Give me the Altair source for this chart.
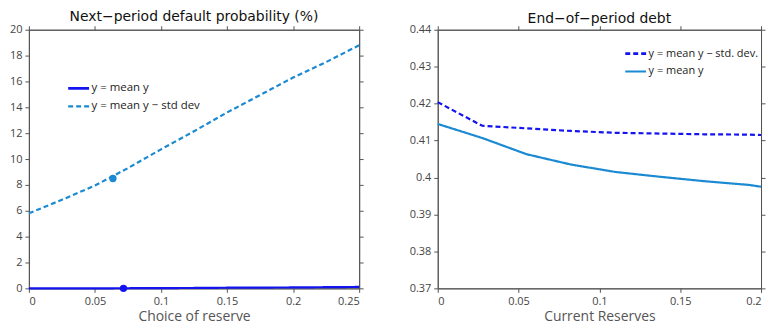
import altair as alt
import pandas as pd

# ---------------- data ----------------
left_x = [0, 0.025, 0.05, 0.075, 0.1, 0.125, 0.15, 0.175, 0.2, 0.225, 0.25]
left_mean = [0.0, 0.0, 0.0, 0.01, 0.02, 0.03, 0.05, 0.06, 0.07, 0.09, 0.11]
left_std = [5.8, 6.85, 7.95, 9.3, 10.75, 12.15, 13.6, 14.95, 16.3, 17.5, 18.8]
left_pt_x = [0.0636, 0.0716]
left_pt_y = [8.5, 0.0]
left_series = ["y = mean y", "y = mean y − std dev"]

right_x = [0, 0.0275, 0.055, 0.0825, 0.11, 0.1375, 0.165, 0.1925, 0.2]
right_std = [0.4204, 0.4140, 0.4133, 0.4126, 0.4121, 0.4119, 0.4117, 0.4116, 0.4115]
right_mean = [0.4145, 0.4107, 0.4063, 0.4035, 0.4015, 0.4002, 0.3990, 0.3980, 0.3975]
right_series = ["y = mean y − std. dev.", "y = mean y"]

DARK = "#1414f0"
LIGHT = "#1b8ad2"
FONT = "Open Sans"
TFONT = "DejaVu Sans"

left_df = pd.DataFrame({
    "x": left_x * 2,
    "y": left_mean + left_std,
    "s": [left_series[0]] * len(left_x) + [left_series[1]] * len(left_x),
})
left_pts = pd.DataFrame({"x": left_pt_x, "y": left_pt_y, "s": left_series[::-1]})

right_df = pd.DataFrame({
    "x": right_x * 2,
    "y": right_std + right_mean,
    "s": [right_series[0]] * len(right_x) + [right_series[1]] * len(right_x),
})


def panel(df, xdom, xticks, ydom, yticks, series, colors, dashes, widths, title, xtitle,
          legx, legy, legfs, w, h, title_offset, pts=None):
    xs = alt.Scale(domain=xdom, nice=False, zero=False)
    ys = alt.Scale(domain=ydom, nice=False, zero=False)
    leg = alt.Legend(orient="none", legendX=legx, legendY=legy, title=None,
                     symbolType="stroke", symbolSize=440, symbolStrokeWidth=2.5,
                     labelFontSize=legfs, labelFont=FONT, labelColor="#222",
                     rowPadding=-9, labelOffset=1, padding=0)
    base_x = alt.X("x:Q", scale=xs, axis=alt.Axis(values=xticks, format="~g", title=xtitle, orient="bottom"))
    base_y = alt.Y("y:Q", scale=ys, axis=alt.Axis(values=yticks, format="~g", title=None, orient="left"))
    lines = alt.Chart(df).mark_line(strokeWidth=2.2).encode(
        x=base_x, y=base_y,
        color=alt.Color("s:N", scale=alt.Scale(domain=series, range=colors), legend=leg),
        strokeDash=alt.StrokeDash("s:N", scale=alt.Scale(domain=series, range=dashes), legend=leg),
        strokeWidth=alt.StrokeWidth("s:N", scale=alt.Scale(domain=series, range=widths), legend=None),
    )
    frame = alt.Chart(df).mark_line(opacity=0).encode(
        x=alt.X("x:Q", scale=xs, axis=alt.Axis(values=xticks, orient="top", labels=False, title=None)),
        y=alt.Y("y:Q", scale=ys, axis=alt.Axis(values=yticks, orient="right", labels=False, title=None)),
    )
    layers = [lines, frame]
    if pts is not None:
        layers.append(alt.Chart(pts).mark_circle(size=55, opacity=1).encode(
            x=alt.X("x:Q", scale=xs, axis=None), y=alt.Y("y:Q", scale=ys, axis=None),
            color=alt.Color("s:N", scale=alt.Scale(domain=series, range=colors), legend=None),
        ))
    return alt.layer(*layers).resolve_axis(x="independent", y="independent").properties(
        width=w, height=h,
        title=alt.TitleParams(title, fontSize=14, font=TFONT, fontWeight="normal",
                              color="#111", offset=title_offset),
    )


left = panel(left_df, [0, 0.25], [0, 0.05, 0.1, 0.15, 0.2, 0.25], [0, 20], list(range(0, 21, 2)),
             left_series, [DARK, LIGHT], [[1, 0], [5, 3]], [2.6, 2.2],
             "Next−period default probability (%)", "Choice of reserve",
             38, 47, 11.5, 332, 260, 0, pts=left_pts)

right = panel(right_df, [0, 0.2], [0, 0.05, 0.1, 0.15, 0.2],
              [0.37, 0.44], [0.37, 0.38, 0.39, 0.40, 0.41, 0.42, 0.43, 0.44],
              right_series, [DARK, LIGHT], [[5, 3], [1, 0]], [2.6, 2.2],
              "End−of−period debt", "Current Reserves",
              187, 12, 11, 325, 260, -2)

chart = alt.hconcat(left, right, spacing=44).resolve_scale(
    color="independent", strokeDash="independent", strokeWidth="independent"
).properties(
    padding={"left": 0, "top": 0, "right": 0, "bottom": 0}
).configure_view(
    stroke="#555", strokeWidth=1
).configure_axis(
    grid=False, domainColor="#555", tickColor="#555", tickSize=4,
    labelColor="#444", labelFont=FONT, labelFontSize=11, labelPadding=3,
    titleColor="#555", titleFont=FONT, titleFontSize=14, titleFontWeight="normal",
    titlePadding=3,
)

chart.save("out.html", embed_options={"renderer": "svg", "actions": False})
